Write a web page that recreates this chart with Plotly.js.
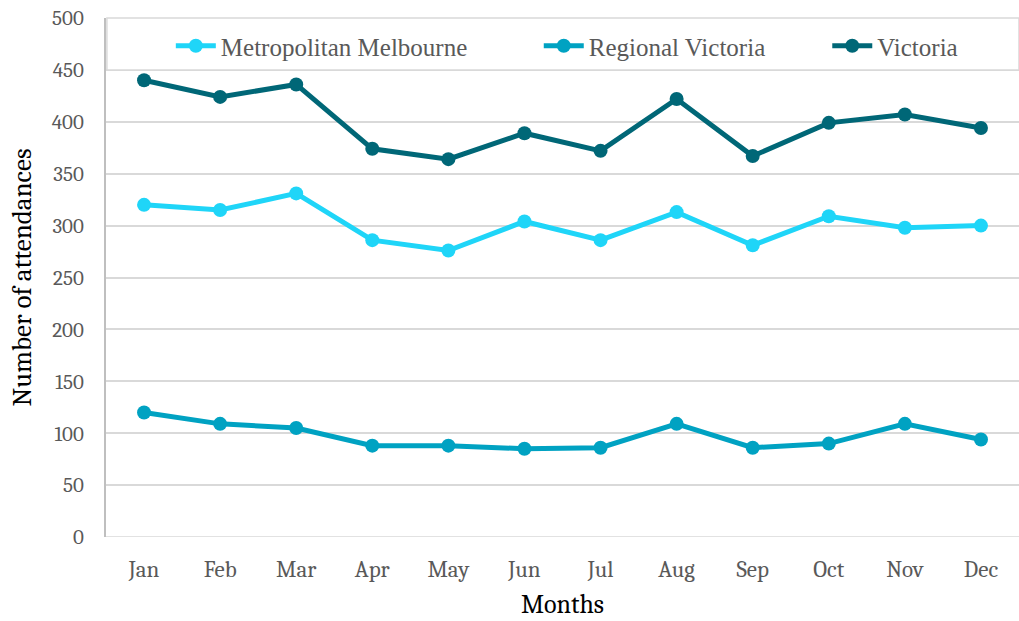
<!DOCTYPE html>
<html><head><meta charset="utf-8">
<script src="https://cdn.plot.ly/plotly-3.0.1.min.js"></script>
<style>body{margin:0;padding:0;background:#fff}#chart{width:1019px;height:621px}</style>
</head><body><div id="chart"></div>
<script>
const months = ["Jan","Feb","Mar","Apr","May","Jun","Jul","Aug","Sep","Oct","Nov","Dec"];
const metroMelbourne = [320,315,331,286,276,304,286,313,281,309,298,300];
const regionalVictoria = [120,109,105,88,88,85,86,109,86,90,109,94];
const victoria = [440,424,436,374,364,389,372,422,367,399,407,394];
const yTicks = [0,50,100,150,200,250,300,350,400,450,500];

function series(name, y, color, leg){
  return {x: months, y: y, name: name, type: 'scatter', mode: 'lines+markers', legend: leg,
    line: {color: color, width: 5}, marker: {color: color, size: 14}};
}
const data = [
  series('Metropolitan Melbourne', metroMelbourne, '#1fd5f8', 'legend'),
  series('Regional Victoria', regionalVictoria, '#00a2c2', 'legend2'),
  series('Victoria', victoria, '#006777', 'legend3')
];
const serif = 'Cambria, "DejaVu Serif", serif';
const legFont = {family: '"Liberation Serif", serif', size: 25, color: '#595959'};
function leg(x){
  return {orientation: 'h', x: x, xanchor: 'left', y: 0.946, yanchor: 'middle',
    bgcolor: 'rgba(0,0,0,0)', font: legFont, itemwidth: 40};
}
const layout = {
  width: 1019, height: 621,
  margin: {l: 106, r: 0, t: 18, b: 84},
  paper_bgcolor: '#fff', plot_bgcolor: '#fff',
  showlegend: true,
  legend: leg(0.071),
  legend2: leg(0.474),
  legend3: leg(0.79),
  xaxis: {type: 'category', range: [-0.5, 11.5], showgrid: false, zeroline: false,
    showline: false, ticks: '', ticklabelstandoff: 16,
    tickfont: {family: serif, size: 23, color: '#595959'},
    title: {text: 'Months', font: {family: serif, size: 26, color: '#000'}, standoff: 12}},
  yaxis: {range: [0, 500], tickvals: yTicks, ticktext: yTicks.map(String),
    showgrid: true, gridcolor: '#d9d9d9', gridwidth: 1.5, zeroline: false,
    showline: true, linecolor: '#bfbfbf', linewidth: 2, ticks: '', ticklabelstandoff: 16,
    tickfont: {family: serif, size: 21, color: '#595959'},
    title: {text: 'Number of attendances', font: {family: serif, size: 27, color: '#000'}, standoff: 12}},
  shapes: [
    {type: 'line', xref: 'paper', yref: 'y', x0: 0, x1: 1, y0: 0, y1: 0, line: {color: '#d9d9d9', width: 1.5}, layer: 'below'},
    {type: 'rect', xref: 'paper', yref: 'paper', x0: 0.001, x1: 1.0, y0: 0.9, y1: 1.0,
      fillcolor: '#ffffff', line: {color: '#d9d9d9', width: 1.5}, layer: 'above'}
  ]
};
Plotly.newPlot('chart', data, layout, {displayModeBar: false, responsive: false});
</script></body></html>
